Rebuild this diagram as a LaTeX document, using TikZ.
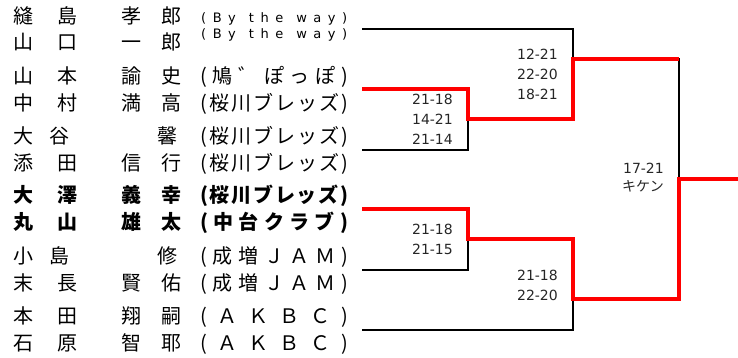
\documentclass[tikz,border=0pt]{standalone}
\usepackage{fontspec}
\newfontfamily\jpf{Noto Sans CJK JP}
\newfontfamily\dvf{DejaVu Sans}
\newcommand\pBTW{(\hss B\hss y\hss\hss t\hss h\hss e\hss\hss w\hss a\hss y\hss )}
\newcommand\pHATO{(\hss 鳩\hss ゛\hss ぽ\hss っ\hss ぽ\hss )}
\newcommand\pSAKU{(\hss 桜\hss 川\hss ブ\hss レ\hss ッ\hss ズ\hss )}
\newcommand\pCHU{(\hss 中\hss 台\hss ク\hss ラ\hss ブ\hss )}
\newcommand\pNARI{(\hss 成\hss 増\hss Ｊ\hss Ａ\hss Ｍ\hss )}
\newcommand\pAKBC{(\hss Ａ\hss Ｋ\hss Ｂ\hss Ｃ\hss )}
\begin{document}
\begin{tikzpicture}[x=1pt,y=-1pt,
  nm/.style={inner sep=0pt, font=\jpf\fontsize{20}{20}\selectfont, text height=17.6pt, text depth=2.4pt},
  rg/.style={},
  bd/.style={font=\jpf\bfseries\fontsize{20}{20}\selectfont},
  par/.style={nm, anchor=west},
  smtext/.style={inner sep=0pt, anchor=west, font=\dvf\fontsize{13}{13}\selectfont, text height=9.5pt, text depth=2.6pt},
  sc/.style={inner sep=0pt, anchor=east, align=right, font=\dvf\fontsize{14}{20}\selectfont, text=black!85},
  bk/.style={draw=black, line width=1.8pt},
  rd/.style={draw=red, line width=3.8pt}]
\useasboundingbox (0,0) rectangle (738,358);
\newcommand\nrow[7]{%
  \node[nm,#3] (#1a) at (23,#2) {#4};
  \node[nm,#3] (#1b) at (67,#2) {#5};
  \node[nm,#3] (#1c) at (131,#2) {#6};
  \node[nm,#3] (#1d) at (171,#2) {#7};}
% names
\nrow{r1}{16}{rg}{縫}{島}{孝}{郎}
\nrow{r2}{42}{rg}{山}{口}{一}{郎}
\nrow{r3}{76}{rg}{山}{本}{諭}{史}
\nrow{r4}{103}{rg}{中}{村}{満}{高}
\node[nm] (r5a) at (23,136) {大};
\node[nm] (r5b) at (59,136) {谷};
\node[nm] (r5d) at (167,136) {馨};
\nrow{r6}{163}{rg}{添}{田}{信}{行}
\nrow{r7}{195}{bd}{大}{澤}{義}{幸}
\nrow{r8}{222}{bd}{丸}{山}{雄}{太}
\node[nm] (r9a) at (23,256) {小};
\node[nm] (r9b) at (59,256) {島};
\node[nm] (r9d) at (167,256) {修};
\nrow{r10}{283}{rg}{末}{長}{賢}{佑}
\nrow{r11}{316}{rg}{本}{田}{翔}{嗣}
\nrow{r12}{343}{rg}{石}{原}{智}{耶}
% teams
\node[smtext] (t1) at (201,19) {\makebox[146pt][s]{\pBTW}};
\node[smtext] (t2) at (201,35) {\makebox[146pt][s]{\pBTW}};
\node[par] (t3) at (200,76) {\makebox[148pt][s]{\pHATO}};
\node[par] (t4) at (200,103) {\makebox[148pt][s]{\pSAKU}};
\node[par] (t5) at (200,136) {\makebox[148pt][s]{\pSAKU}};
\node[par] (t6) at (200,163) {\makebox[148pt][s]{\pSAKU}};
\node[par,bd] (t7) at (200,195) {\makebox[148pt][s]{\pSAKU}};
\node[par,bd] (t8) at (200,222) {\makebox[148pt][s]{\pCHU}};
\node[par] (t9) at (200,256) {\makebox[148pt][s]{\pNARI}};
\node[par] (t10) at (200,283) {\makebox[148pt][s]{\pNARI}};
\node[par] (t11) at (200,316) {\makebox[148pt][s]{\pAKBC}};
\node[par] (t12) at (200,343) {\makebox[148pt][s]{\pAKBC}};
% bracket points
\coordinate (e1) at (362,29);
\coordinate (e2) at (362,89);
\coordinate (e3) at (362,150);
\coordinate (e4) at (362,209);
\coordinate (e5) at (362,270);
\coordinate (e6) at (362,330);
\coordinate (m1) at (468,119);
\coordinate (m2) at (468,239);
\coordinate (q1) at (573,59);
\coordinate (q2) at (573,299);
\coordinate (f) at (679,179);
\coordinate (w) at (738,179);
% black lines
\draw[bk] (e1) -| (q1) -| (f);
\draw[bk] (e3) -| (m1);
\draw[bk] (e5) -| (m2);
\draw[bk] (e6) -| (q2);
% red winner lines
\draw[rd] (e2) -| (m1) -| (q1) -- (q1 -| f);
\draw[rd] (e4) -| (m2) -| (q2) -| (f) -- (w);
% scores
\node[sc] (s1) at (558,74) {12-21\\22-20\\18-21};
\node[sc] (s2) at (453,119) {21-18\\14-21\\21-14};
\node[sc] (s3) at (664,178) {17-21\\[-2pt]{\jpf キケン}};
\node[sc] (s4) at (453,239) {21-18\\21-15};
\node[sc] (s5) at (558,285) {21-18\\22-20};
\end{tikzpicture}
\end{document}
